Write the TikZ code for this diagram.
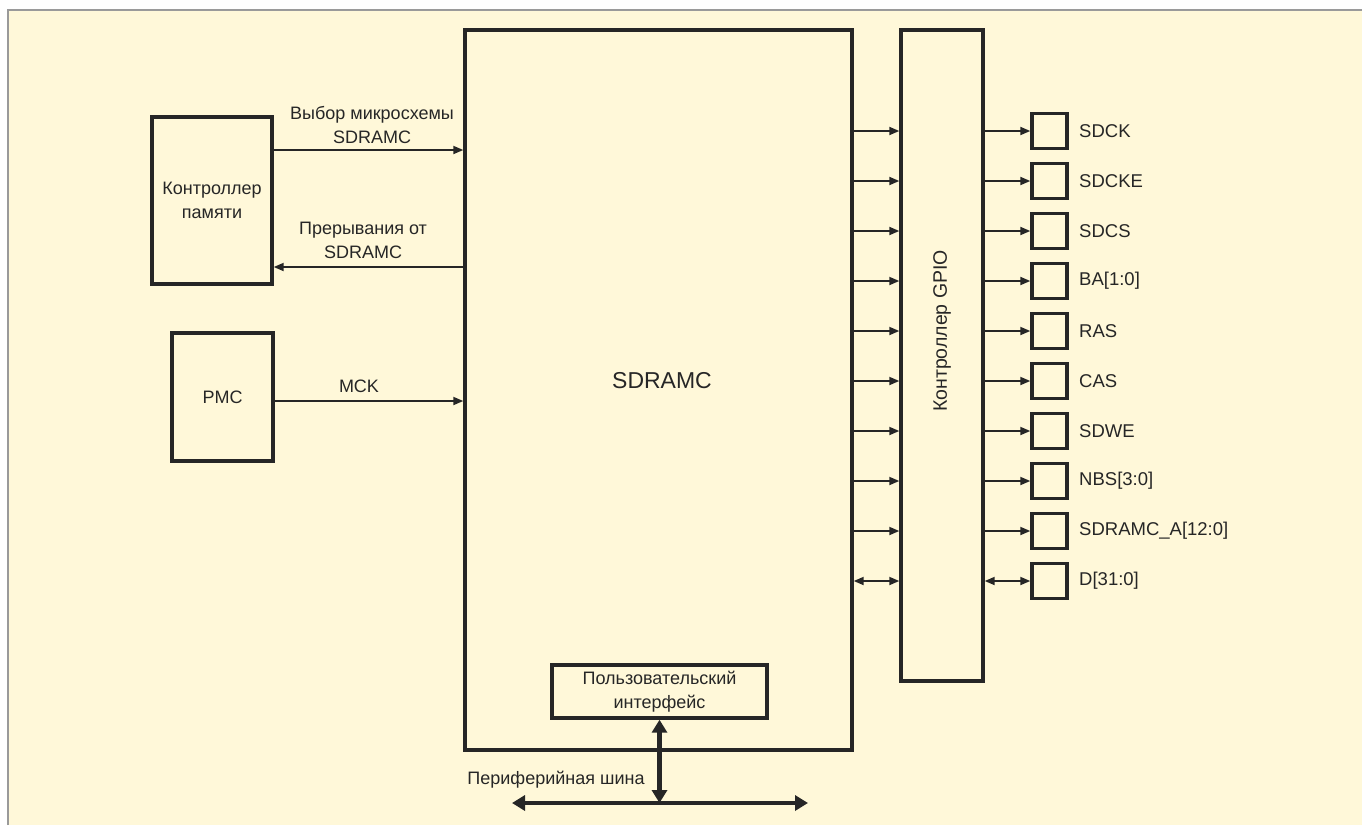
\documentclass[tikz,border=0pt]{standalone}
\usepackage{fontspec}
\setmainfont{Liberation Sans}
\usetikzlibrary{arrows.meta,calc}
\definecolor{paper}{HTML}{FFF8D9}
\definecolor{ink}{HTML}{262626}
\definecolor{framegray}{HTML}{9A9A9A}
\tikzset{
  blk/.style={draw=ink, line width=3.4pt, fill=none, inner sep=0pt, text=ink},
  sig/.style={draw=ink, line width=1.8pt, -{Triangle[length=10pt,width=8pt]}},
  bisig/.style={draw=ink, line width=1.8pt, {Triangle[length=10pt,width=8pt]}-{Triangle[length=10pt,width=8pt]}},
  busarr/.style={draw=ink, line width=4.5pt, {Triangle[length=13pt,width=15pt]}-{Triangle[length=13pt,width=15pt]}},
  lbl/.style={text=ink, font=\fontsize{18}{24}\selectfont, align=center, inner sep=0pt},
  pinlbl/.style={text=ink, font=\fontsize{18.5}{20}\selectfont, anchor=west, inner sep=0pt},
  pinbox/.style={blk, minimum width=35pt, minimum height=35pt}
}
\begin{document}
\begin{tikzpicture}[x=1pt,y=-1pt]
\useasboundingbox (0,0) rectangle (1362,825);
\fill[white] (0,0) rectangle (1362,825);
\fill[paper] (8,10) rectangle (1362,825);
\draw[framegray, line width=1.2pt] (8,825) -- (8,10) -- (1362,10);

% main blocks
\node[blk, minimum width=120pt, minimum height=167pt, lbl] (mem) at (212,200.5) {Контроллер\\памяти};
\node[blk, minimum width=101pt, minimum height=128pt, lbl] (pmc) at (222.5,397) {PMC};
\node[blk, minimum width=387pt, minimum height=720pt] (sdr) at (658.5,390) {};
\node[lbl, font=\fontsize{23}{27}\selectfont] (sdrt) at (662,381) {SDRAMC};
\node[blk, minimum width=82pt, minimum height=651pt] (gpio) at (942,355.5) {};
\node[lbl, rotate=90, font=\fontsize{19.5}{24}\selectfont] (gpiot) at (942,331) {Контроллер GPIO};
\node[blk, minimum width=215pt, minimum height=53pt, lbl] (ui) at (659.5,691.5) {Пользовательский\\интерфейс};

% left signals
\draw[sig] (mem.east |- 0,150) -- (sdr.west |- 0,150);
\node[lbl] (l1) at (372,125) {Выбор микросхемы\\SDRAMC};
\draw[sig] (sdr.west |- 0,267) -- (mem.east |- 0,267);
\node[lbl] (l2) at (363,240) {Прерывания от\\SDRAMC};
\draw[sig] (pmc.east |- 0,401) -- (sdr.west |- 0,401);
\node[lbl] (l3) at (359,386) {MCK};

% pins
\foreach \i/\t in {0/SDCK,1/SDCKE,2/SDCS,3/{BA[1:0]},4/RAS,5/CAS,6/SDWE,7/{NBS[3:0]},8/{SDRAMC\_A[12:0]},9/{D[31:0]}}{
  \pgfmathsetmacro{\yy}{131+50*\i}
  \node[pinbox] (p\i) at (1049.5,\yy) {};
  \node[pinlbl] (t\i) at (1079,\yy) {\t};
}
\foreach \i in {0,...,8}{
  \draw[sig] (sdr.east |- p\i) -- (gpio.west |- p\i);
  \draw[sig] (gpio.east |- p\i) -- (p\i.west);
}
\draw[bisig] (sdr.east |- p9) -- (gpio.west |- p9);
\draw[bisig] (gpio.east |- p9) -- (p9.west);

% peripheral bus
\coordinate (bl) at (512,803);
\coordinate (br) at (808,803);
\coordinate (bm) at (ui.south |- bl);
\draw[busarr] (bl) -- (br);
\draw[busarr] (ui.south) -- (bm);
\node[lbl] (bus) at (556,780) {Периферийная шина};
\end{tikzpicture}
\end{document}
